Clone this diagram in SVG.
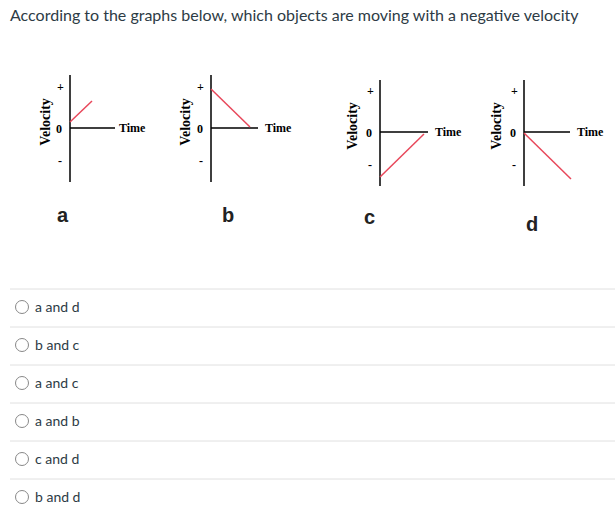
<svg xmlns="http://www.w3.org/2000/svg" width="615" height="519" viewBox="0 0 615 519">
<style>
.ax{stroke:#000;stroke-width:1.5;fill:none}
.r{stroke:#e8475a;stroke-width:1.5}
.g{font-family:"Liberation Serif",serif;font-weight:bold;font-size:12px}
.v{font-family:"Liberation Serif",serif;font-weight:bold;font-size:14px}
.lb{font-family:"Liberation Sans",sans-serif;font-weight:bold;font-size:20px;fill:#222}
.o{font-family:Lato,sans-serif;font-size:14px;fill:#2d3b45}
.sep{stroke:#e0e0e0;stroke-width:1}
.rad{fill:#fff;stroke:#888;stroke-width:1}
</style>
<rect width="615" height="519" fill="#fff"/>
<text x="10" y="21" font-family="Lato,sans-serif" font-size="16" fill="#2d3b45">According to the graphs below, which objects are moving with a negative velocity</text>
<g id="graph-a">
<path class="ax" d="M70 75V182M70 128H115"/><line class="r" x1="70" y1="122" x2="92" y2="101"/>
<text class="g" x="119" y="132">Time</text><text class="g" x="57" y="91">+</text><text class="g" x="56" y="133">0</text><text class="g" x="58" y="165">-</text>
<text class="v" transform="translate(50,122) rotate(-90)" text-anchor="middle">Velocity</text>
<text class="lb" x="57" y="222">a</text></g>
<g id="graph-b">
<path class="ax" d="M211 75V182M211 128H258"/><line class="r" x1="211" y1="89" x2="250" y2="127"/>
<text class="g" x="265" y="132">Time</text><text class="g" x="197" y="91">+</text><text class="g" x="197" y="133">0</text><text class="g" x="199" y="165">-</text>
<text class="v" transform="translate(190,122) rotate(-90)" text-anchor="middle">Velocity</text>
<text class="lb" x="222" y="222">b</text></g>
<g id="graph-c">
<path class="ax" d="M380 80V186M380 132H428"/><line class="r" x1="380" y1="177" x2="424" y2="134"/>
<text class="g" x="435" y="136">Time</text><text class="g" x="367" y="95">+</text><text class="g" x="366" y="137">0</text><text class="g" x="368" y="169">-</text>
<text class="v" transform="translate(357,126) rotate(-90)" text-anchor="middle">Velocity</text>
<text class="lb" x="364" y="224">c</text></g>
<g id="graph-d">
<path class="ax" d="M524 80V186M524 132H570"/><line class="r" x1="524" y1="133" x2="571" y2="179"/>
<text class="g" x="577" y="136">Time</text><text class="g" x="511" y="95">+</text><text class="g" x="510" y="137">0</text><text class="g" x="512" y="169">-</text>
<text class="v" transform="translate(501,126) rotate(-90)" text-anchor="middle">Velocity</text>
<text class="lb" x="526" y="231">d</text></g>
<g id="options">
<line class="sep" x1="10" y1="289" x2="615" y2="289"/>
<line class="sep" x1="10" y1="327" x2="615" y2="327"/>
<line class="sep" x1="10" y1="365" x2="615" y2="365"/>
<line class="sep" x1="10" y1="403" x2="615" y2="403"/>
<line class="sep" x1="10" y1="441" x2="615" y2="441"/>
<line class="sep" x1="10" y1="479" x2="615" y2="479"/>
<circle class="rad" cx="22" cy="307" r="6.5"/><text class="o" x="35" y="312">a and d</text>
<circle class="rad" cx="22" cy="345" r="6.5"/><text class="o" x="35" y="350">b and c</text>
<circle class="rad" cx="22" cy="383" r="6.5"/><text class="o" x="35" y="388">a and c</text>
<circle class="rad" cx="22" cy="421" r="6.5"/><text class="o" x="35" y="426">a and b</text>
<circle class="rad" cx="22" cy="459" r="6.5"/><text class="o" x="35" y="464">c and d</text>
<circle class="rad" cx="22" cy="497" r="6.5"/><text class="o" x="35" y="502">b and d</text>
</g>
</svg>
